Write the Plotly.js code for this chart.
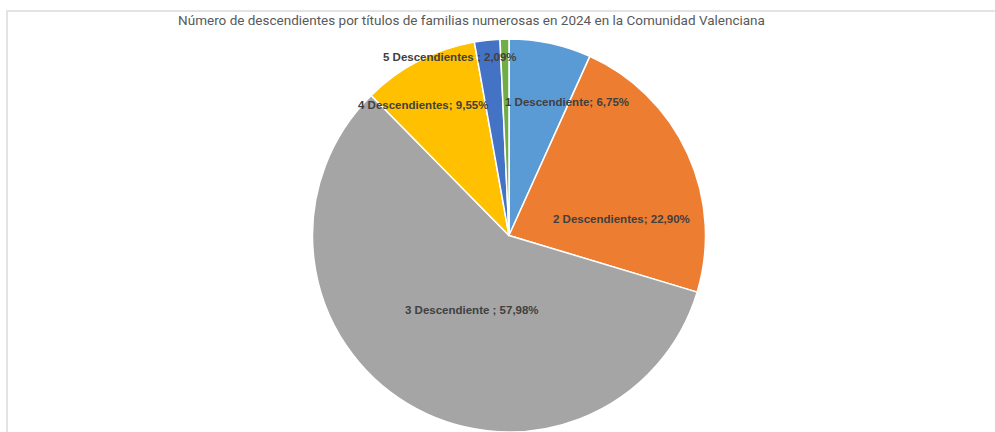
<!DOCTYPE html>
<html>
<head>
<meta charset="utf-8">
<script src="https://cdn.plot.ly/plotly-3.0.1.min.js"></script>
<style>
  html, body { margin: 0; padding: 0; background: #fff; }
  #wrap { position: relative; width: 995px; height: 432px; overflow: hidden; }
  #frame { position: absolute; left: 6px; top: 10px; width: 995px; height: 440px;
           border-top: 2px solid #e3e3e3; border-left: 2px solid #e3e3e3; box-sizing: border-box; pointer-events: none; z-index: 5; }
  #chart { position: absolute; left: 0; top: 0; width: 995px; height: 432px; }
</style>
</head>
<body>
<div id="wrap">
  <div id="chart"></div>
  <div id="frame"></div>
</div>
<script>
// Data
const categories = ["1 Descendiente", "2 Descendientes", "3 Descendiente ", "4 Descendientes", "5 Descendientes ", "6 o más Descendientes"];
const percentages = [6.75, 22.90, 57.98, 9.55, 2.09, 0.73];
const showLabel = [true, true, true, true, true, false];
const colors = ["#5B9BD5", "#ED7D31", "#A5A5A5", "#FFC000", "#4472C4", "#70AD47"];
// Label placement (pixel centers, as laid out in the reference)
const labelPx = [[567, 102], [621, 219], [472, 310], [423, 105], [450, 57], [0, 0]];

const W = 995, H = 432;
const margin = {l: 23, r: 0, t: 39, b: 0};
const pw = W - margin.l - margin.r, ph = H - margin.t - margin.b;

function fmt(v) { return v.toFixed(2).replace('.', ','); }

const annotations = [];
categories.forEach((c, i) => {
  if (!showLabel[i]) return;
  annotations.push({
    text: '<b>' + c.replace(/ $/, '&nbsp;') + '; ' + fmt(percentages[i]) + '%</b>',
    xref: 'paper', yref: 'paper',
    x: (labelPx[i][0] - margin.l) / pw,
    y: 1 - (labelPx[i][1] - margin.t) / ph,
    xanchor: 'center', yanchor: 'middle',
    showarrow: false,
    font: {family: 'Liberation Sans, Arial, sans-serif', size: 11.5, color: '#404040'}
  });
});

const trace = {
  type: 'pie',
  labels: categories,
  values: percentages,
  sort: false,
  direction: 'clockwise',
  rotation: 0,
  textinfo: 'none',
  hoverinfo: 'label+percent',
  marker: {colors: colors, line: {color: '#ffffff', width: 1.5}},
  showlegend: false
};

const layout = {
  width: W, height: H,
  margin: margin,
  paper_bgcolor: '#ffffff',
  title: {
    text: 'Número de descendientes por títulos de familias numerosas en 2024 en la Comunidad Valenciana',
    font: {family: 'Roboto, sans-serif', size: 13.5, color: '#595959'},
    xref: 'container', yref: 'container',
    x: 471.5 / W, xanchor: 'center',
    y: 1 - 20 / H, yanchor: 'middle'
  },
  annotations: annotations,
  showlegend: false
};

Plotly.newPlot('chart', [trace], layout, {displayModeBar: false, staticPlot: true});
</script>
</body>
</html>
